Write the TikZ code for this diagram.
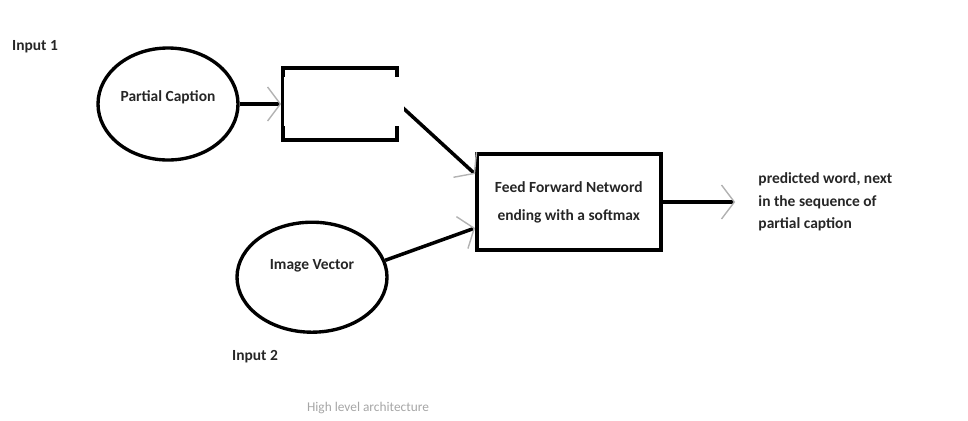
\documentclass[tikz,border=0pt]{standalone}
\usepackage{fontspec}
\setmainfont{Carlito}
\usepackage{tikz}
\usetikzlibrary{shapes,arrows.meta,positioning}
\tikzstyle{block} = [draw, rectangle, line width=2.5pt, minimum height=2.4cm, minimum width=4.6cm, align=center]
\tikzstyle{blank} = [draw, rectangle, line width=2.5pt, minimum height=1.8cm, minimum width=2.85cm]
\tikzstyle{ellip} = [draw, ellipse, line width=2.4pt]
\tikzstyle{txt} = [font=\fontsize{11}{20}\selectfont\bfseries, text=black!85]
\tikzstyle{output} = [coordinate]

\begin{document}
\begin{tikzpicture}[auto, node distance=4.3cm, line width=2.5pt,
  >={Straight Barb[length=0.32cm, width=0.85cm, line width=1pt, color=gray!60]}]
  \useasboundingbox (0,0) rectangle (24.2,-10.5);

  \node [ellip, minimum width=3.5cm, minimum height=2.8cm,
         label={[txt, yshift=0.18cm]center:Partial Caption}] (pcap) at (4.2,-2.6) {};
  \node [blank, right of=pcap] (embed) {};
  \node [ellip, minimum width=3.75cm, minimum height=2.75cm,
         label={[txt, yshift=0.28cm]center:Image Vector}] (imgvec) at (7.8,-6.93) {};
  \node [block, txt] (ffn) at (14.22,-5.05) {Feed Forward Netword\\ending with a softmax};
  \node [output, right of=ffn, node distance=4.16cm] (out) {};
  \node [txt, right=0.42cm of out, align=left, font=\fontsize{11}{16}\selectfont\bfseries] (pred)
        {predicted word, next\\in the sequence of\\partial caption};

  \node [txt] (in1) at (0.875,-1.175) {Input 1};
  \node [txt] (in2) at (6.375,-8.925) {Input 2};
  \node [font=\fontsize{9.5}{11}\selectfont, text=gray!70] (title) at (9.2,-10.2) {High level architecture};

  \draw [->] (pcap) -- (embed);
  \draw [->] (embed.east) -- ([yshift=0.7cm]ffn.west);
  \draw [->] (imgvec.13) -- ([yshift=-0.65cm]ffn.west);
  \draw [->] (ffn.east) -- (out);
  % cut in the right side of the empty box
  \fill [white] ([shift={(0.08cm,-0.28cm)}]embed.north west) rectangle ([shift={(0.12cm,0.4cm)}]embed.south east);
\end{tikzpicture}
\end{document}
